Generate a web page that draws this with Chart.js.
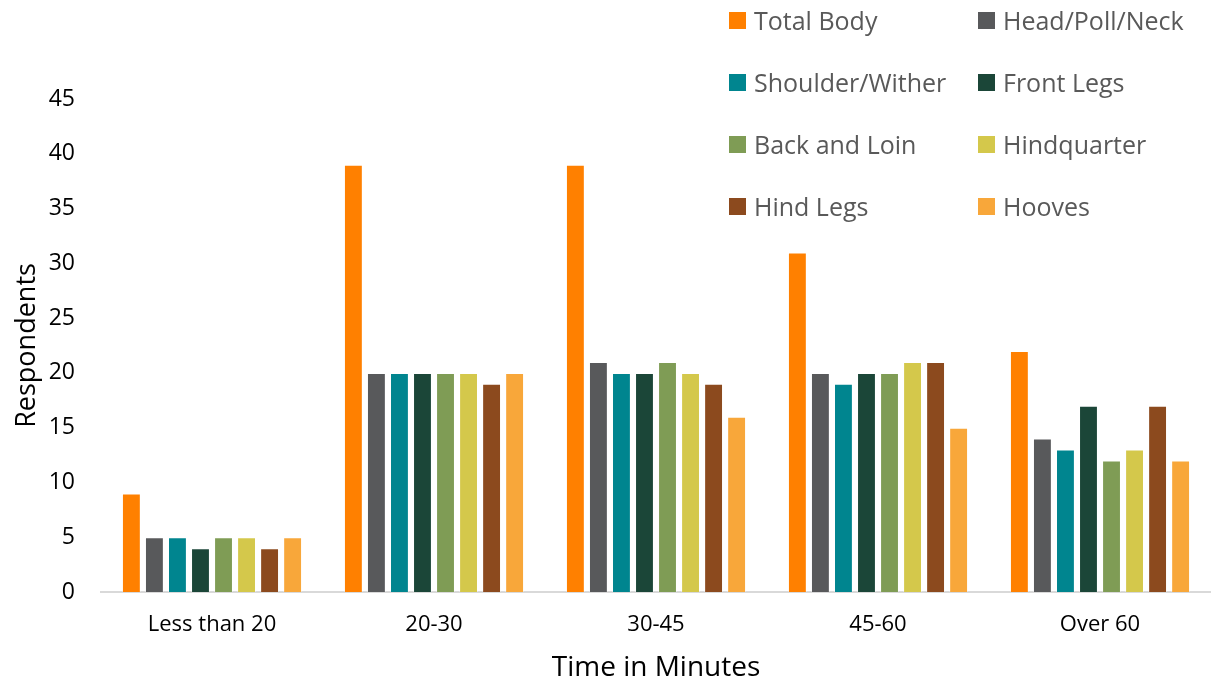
<!DOCTYPE html>
<html>
<head>
<meta charset="utf-8">
<script src="https://cdn.jsdelivr.net/npm/chart.js@4.4.0/dist/chart.umd.min.js"></script>
<style>
  html, body { margin: 0; padding: 0; background: #fff; }
  #wrap { position: relative; width: 1211px; height: 685px; }
  canvas { display: block; }
  #legend { position: absolute; left: 729px; top: 0px; width: 482px; font-family: "Open Sans", sans-serif; }
  .item { position: absolute; display: flex; align-items: center; font-size: 25px; line-height: 34px; color: #595959; white-space: nowrap; }
  .sw { width: 17px; height: 17px; margin-right: 8px; flex: none; }
</style>
</head>
<body>
<div id="wrap">
  <canvas id="c" width="1211" height="685"></canvas>
  <div id="legend"></div>
</div>
<script>
const categories = ["Less than 20", "20-30", "30-45", "45-60", "Over 60"];
const seriesNames = ["Total Body", "Head/Poll/Neck", "Shoulder/Wither", "Front Legs", "Back and Loin", "Hindquarter", "Hind Legs", "Hooves"];
const totalBody      = [9, 39, 39, 31, 22];
const headPollNeck   = [5, 20, 21, 20, 14];
const shoulderWither = [5, 20, 20, 19, 13];
const frontLegs      = [4, 20, 20, 20, 17];
const backAndLoin    = [5, 20, 21, 20, 12];
const hindquarter    = [5, 20, 20, 21, 13];
const hindLegs       = [4, 19, 19, 21, 17];
const hooves         = [5, 20, 16, 15, 12];
const yTicks = [0, 5, 10, 15, 20, 25, 30, 35, 40, 45];
const colors = ["#FF8000", "#58595B", "#00858F", "#1B4638", "#7F9C55", "#D4C84B", "#8C4A1E", "#F8A73A"];

const seriesValues = [totalBody, headPollNeck, shoulderWither, frontLegs, backAndLoin, hindquarter, hindLegs, hooves];
const datasets = seriesNames.map((name, i) => ({
  label: name,
  data: seriesValues[i],
  backgroundColor: colors[i],
  borderColor: 'rgba(255,255,255,0.35)',
  borderWidth: 1,
  barPercentage: 0.82,
  categoryPercentage: 0.83
}));

const FONT = "'Open Sans', sans-serif";
Chart.defaults.font.family = FONT;

const chart = new Chart(document.getElementById('c'), {
  type: 'bar',
  data: { labels: categories, datasets },
  options: {
    responsive: false,
    animation: false,
    layout: { padding: { top: 99, right: 0, bottom: 0, left: 0 } },
    plugins: {
      legend: { display: false },
      tooltip: { enabled: false }
    },
    scales: {
      x: {
        grid: { display: false, drawTicks: false },
        border: { display: true, color: '#D9D9D9', width: 2 },
        ticks: { color: '#000', font: { size: 22 }, padding: 20 },
        title: { display: true, text: 'Time in Minutes', color: '#000', font: { size: 28 }, padding: { top: 4, bottom: 0 } },
        afterFit: (s) => { s.height = 93; }
      },
      y: {
        min: 0, max: 45,
        afterBuildTicks: (s) => { s.ticks = yTicks.map(v => ({ value: v })); },
        grid: { display: false, drawTicks: false },
        border: { display: false },
        ticks: { color: '#000', font: { size: 23 }, padding: 26 },
        title: { display: true, text: 'Respondents', color: '#000', font: { size: 27 }, padding: { top: 11, bottom: 0 } },
        afterFit: (s) => { s.width = 101; }
      }
    }
  }
});

// HTML legend in two columns built from the chart's datasets
const legend = document.getElementById('legend');
const items = chart.options.plugins.legend.labels.generateLabels(chart);
items.forEach((it, i) => {
  const d = document.createElement('div');
  d.className = 'item';
  const col = i % 2, row = Math.floor(i / 2);
  d.style.left = (col * 249) + 'px';
  d.style.top = (3 + row * 62) + 'px';
  const sw = document.createElement('span');
  sw.className = 'sw';
  sw.style.background = it.fillStyle;
  const t = document.createElement('span');
  t.textContent = it.text;
  d.appendChild(sw); d.appendChild(t);
  legend.appendChild(d);
});
</script>
</body>
</html>
